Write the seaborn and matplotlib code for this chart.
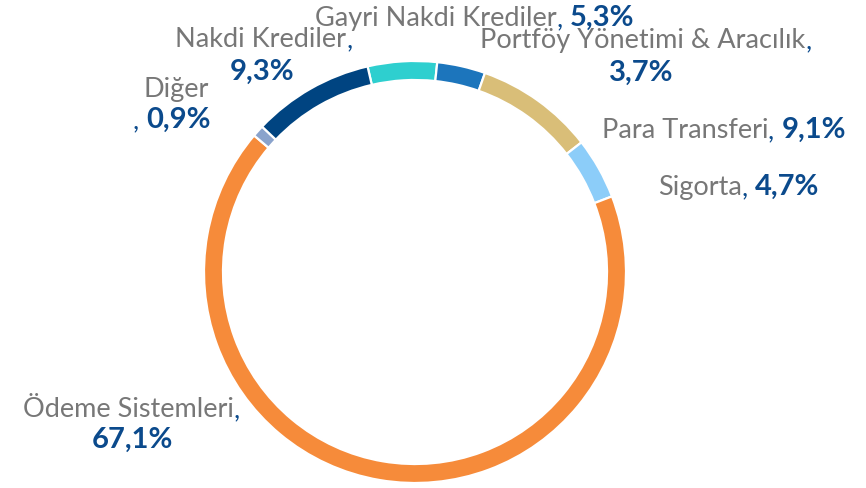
import seaborn as sns
import matplotlib.pyplot as plt

# slices, clockwise from the teal one near 12 o'clock
categories = ["Gayri Nakdi Krediler", "Portföy Yönetimi & Aracılık", "Para Transferi",
              "Sigorta", "Ödeme Sistemleri", "Diğer", "Nakdi Krediler"]
shares = [5.3, 3.7, 9.1, 4.7, 67.1, 0.9, 9.3]
colors = ["#2ecfcf", "#1c75bc", "#d9be78", "#8ccdf9", "#f68b3a", "#8aa3cc", "#004481"]

GRAY = "#777777"
NAVY = "#0b4a8c"
FS_NAME = 19.5
FS_PCT = 21

sns.set_theme(style="white")
plt.rcParams["font.family"] = ["Lato", "DejaVu Sans"]

W, H = 866, 489
fig = plt.figure(figsize=(W / 100, H / 100), dpi=100)

# ring centre / radius in pixels
cx, cy, r = 415, 273, 211
ax = fig.add_axes([(cx - r) / W, (H - cy - r) / H, 2 * r / W, 2 * r / H])
ax.pie(shares, colors=colors, startangle=103, counterclock=False, radius=1,
       wedgeprops=dict(width=0.09, edgecolor="white", linewidth=1.6))
ax.set_xlim(-1, 1)
ax.set_ylim(-1, 1)
ax.set_aspect("equal")
ax.axis("off")

renderer = fig.canvas.get_renderer()


def pct(v):
    return f"{v:.1f}".replace(".", ",") + "%"


def rich(x, y, parts, ha="left"):
    # parts: list of (text, color, weight); x,y in pixels from top-left, y = baseline
    texts = []
    for s, c, w in parts:
        fs = FS_PCT if w == "bold" else FS_NAME
        texts.append(fig.text(0, 0, s, color=c, fontweight=w, fontsize=fs,
                              va="baseline", ha="left"))
    widths = [t.get_window_extent(renderer).width for t in texts]
    total = sum(widths)
    x0 = x - total / 2 if ha == "center" else x
    for t, w in zip(texts, widths):
        t.set_position((x0 / W, (H - y) / H))
        x0 += w


def name_pct(i):
    return [(categories[i], GRAY, "normal"), (", ", NAVY, "normal"), (pct(shares[i]), NAVY, "bold")]


# Gayri Nakdi Krediler
rich(315, 26, name_pct(0))
# Portföy
rich(480, 48, [(categories[1], GRAY, "normal"), (",", NAVY, "normal")])
rich(641, 81, [(pct(shares[1]), NAVY, "bold")], ha="center")
# Para Transferi, Sigorta
rich(602, 138, name_pct(2))
rich(658, 195, name_pct(3))
# Ödeme Sistemleri
rich(23, 417, [(categories[4], GRAY, "normal"), (",", NAVY, "normal")])
rich(132, 448, [(pct(shares[4]), NAVY, "bold")], ha="center")
# Diğer
rich(143, 97, [(categories[5], GRAY, "normal")])
rich(133, 128, [(", ", NAVY, "normal"), (pct(shares[5]), NAVY, "bold")])
# Nakdi Krediler
rich(175, 47, [(categories[6], GRAY, "normal"), (",", NAVY, "normal")])
rich(262, 80, [(pct(shares[6]), NAVY, "bold")], ha="center")

fig.savefig("out.png", dpi=100)
